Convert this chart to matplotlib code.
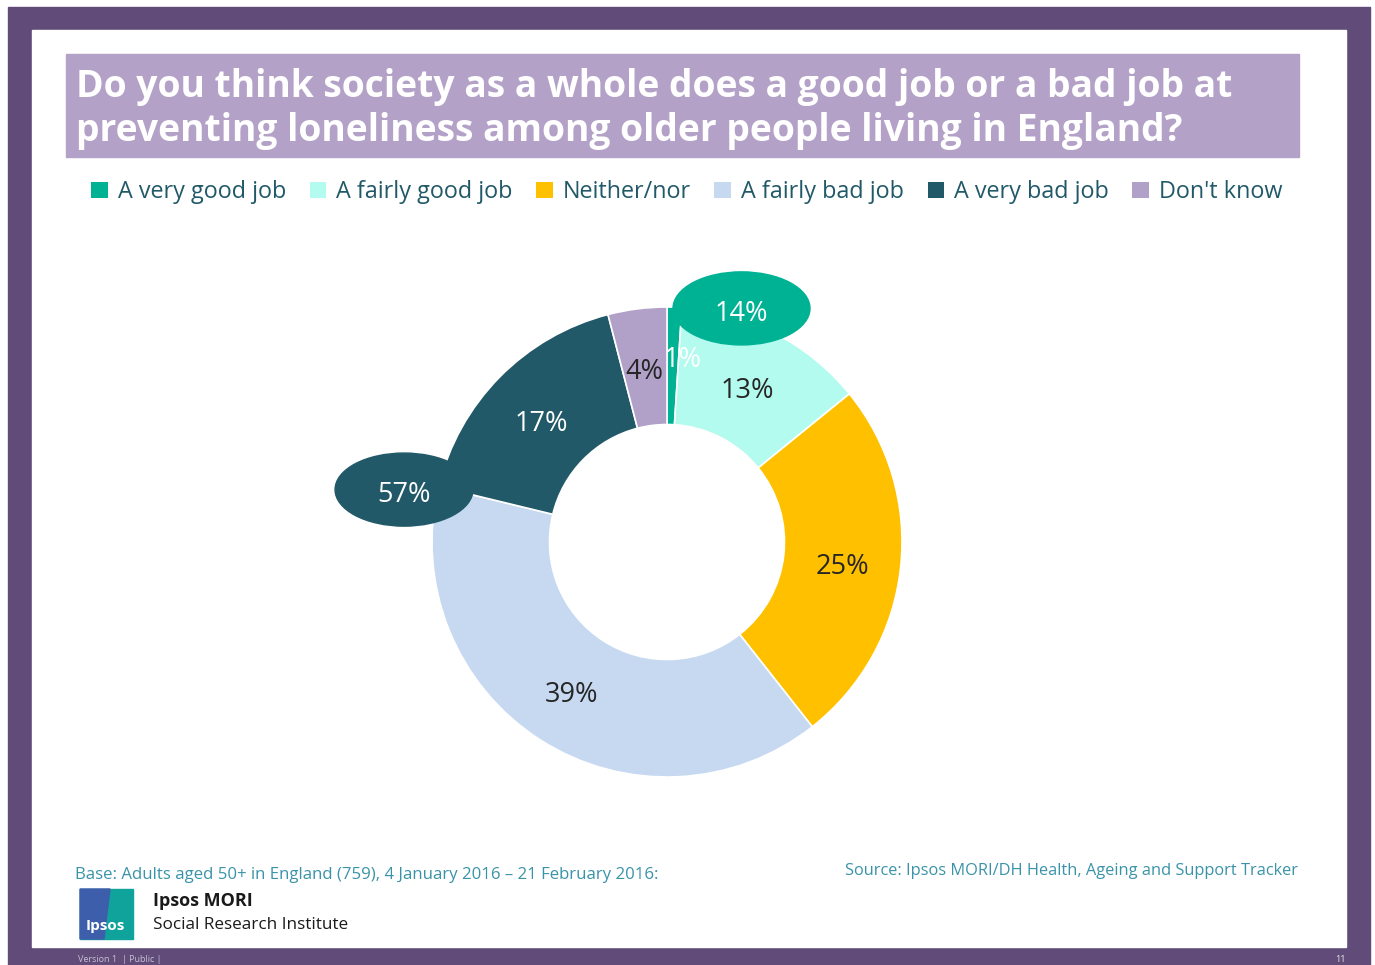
import matplotlib.pyplot as plt
from matplotlib.patches import Rectangle, Ellipse, Polygon
import numpy as np

plt.rcParams['font.family'] = ['Open Sans', 'DejaVu Sans']

categories = ['A very good job', 'A fairly good job', 'Neither/nor',
              'A fairly bad job', 'A very bad job', "Don't know"]
values = [1, 13, 25, 39, 17, 4]
colors = ['#00b294', '#b3fbee', '#ffc000', '#c6d9f1', '#215968', '#b1a0c7']
label_colors = ['white', '#262626', '#262626', '#262626', 'white', '#262626']

net_good = 14
net_bad = 57

title = ('Do you think society as a whole does a good job or a bad job at\n'
         'preventing loneliness among older people living in England?')
base_note = 'Base: Adults aged 50+ in England (759), 4 January 2016 \u2013 21 February 2016:'
source_note = 'Source: Ipsos MORI/DH Health, Ageing and Support Tracker'

W, H = 1375, 965
fig = plt.figure(figsize=(W / 100, H / 100), dpi=100)

# slide background, drawn in pixel units
bg = fig.add_axes([0, 0, 1, 1])
bg.set_xlim(0, W)
bg.set_ylim(H, 0)
bg.axis('off')
bg.add_patch(Rectangle((8, 7), 1362, 960, color='#614c79', zorder=0))
bg.add_patch(Rectangle((32, 30), 1314, 917, color='white', zorder=1))
bg.add_patch(Rectangle((66, 54), 1233, 103, color='#b3a1c7', zorder=2))
bg.text(76, 109, title, color='white', fontsize=26.8, fontweight='bold',
        va='center', ha='left', linespacing=1.2, zorder=3)

bg.text(75, 875, base_note, color='#3a93a8', fontsize=12.1, va='center', zorder=3)
bg.text(1298, 871, source_note, color='#3a93a8', fontsize=11.8, va='center',
        ha='right', zorder=3)

# Ipsos logo block
bg.add_patch(Rectangle((80, 889), 53, 50, color='#0fa39c', zorder=3))
bg.add_patch(Polygon([(80, 889), (110, 889), (104, 939), (80, 939)],
                     closed=True, color='#3d5fab', zorder=4))
bg.text(105, 926, 'Ipsos', color='white', fontsize=11, fontweight='bold',
        ha='center', va='center', zorder=5)
bg.text(153, 901, 'Ipsos MORI', color='#1a1a1a', fontsize=13, fontweight='bold',
        va='center', zorder=3)
bg.text(153, 925, 'Social Research Institute', color='#1a1a1a', fontsize=12.3,
        va='center', zorder=3)
bg.text(78, 959, 'Version 1  | Public |', color='#c8c0d4', fontsize=6.5,
        va='center', zorder=3)
bg.text(1340, 959, '11', color='#e8e4ee', fontsize=6.5, va='center', ha='center',
        zorder=3)

# donut chart
cx, cy, R = 667, 542, 235
span = 1.5
side = 2 * span * R
ax = fig.add_axes([(cx - side / 2) / W, (H - cy - side / 2) / H, side / W, side / H])
wedges, _ = ax.pie(values, colors=colors, startangle=90, counterclock=False,
                   radius=1, wedgeprops=dict(width=0.5, edgecolor='white',
                                             linewidth=1.2))
ax.set_xlim(-span, span)
ax.set_ylim(-span, span)
ax.axis('off')

dy = -0.022  # nudge text down to sit centred in the ring
for w, v, c in zip(wedges, values, label_colors):
    ang = np.deg2rad((w.theta1 + w.theta2) / 2)
    r = 0.75
    if v == 1:
        ang -= np.deg2rad(3)
        r = 0.80
    ax.text(r * np.cos(ang), r * np.sin(ang) + dy, f'{v}%', color=c, fontsize=19.5,
            ha='center', va='center', zorder=5)

# net callouts
ax.add_patch(Ellipse((0.317, 0.994), 0.583, 0.311, color=colors[0], zorder=4))
ax.text(0.317, 0.994 + dy, f'{net_good}%', color='white', fontsize=19.5,
        ha='center', va='center', zorder=6)
ax.add_patch(Ellipse((-1.119, 0.223), 0.587, 0.311, color=colors[4], zorder=4))
ax.text(-1.119, 0.223 + dy, f'{net_bad}%', color='white', fontsize=19.5,
        ha='center', va='center', zorder=6)

leg = fig.legend(wedges, categories, loc='center', bbox_to_anchor=(687 / W, 1 - 192 / H),
                 ncol=6, frameon=False, fontsize=16.8, handlelength=0.7,
                 handleheight=0.7, handletextpad=0.45, columnspacing=1.0,
                 labelcolor='#215968', borderaxespad=0)
for h in leg.legend_handles:
    h.set_edgecolor('none')

fig.savefig('out.png', dpi=100)
